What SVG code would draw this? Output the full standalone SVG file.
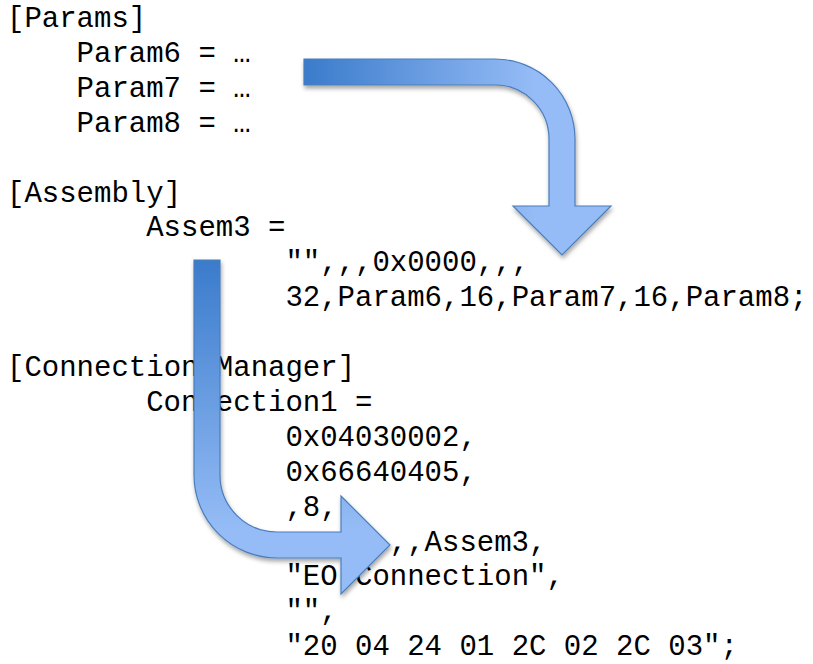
<svg xmlns="http://www.w3.org/2000/svg" width="813" height="664" viewBox="0 0 813 664">
  <style>
    .code { font-family: "Liberation Mono", "Courier New", monospace; font-size: 29px; fill: #000; }
    .arrow { stroke: #4A7EBB; stroke-width: 1.2; stroke-linejoin: miter; }
  </style>
  <defs>
    <linearGradient id="gradRight" gradientUnits="userSpaceOnUse" x1="304" y1="0" x2="535" y2="0">
      <stop offset="0" stop-color="#3A7BCB"/>
      <stop offset="1" stop-color="#95BCF6"/>
    </linearGradient>
    <linearGradient id="gradDown" gradientUnits="userSpaceOnUse" x1="0" y1="260" x2="0" y2="530">
      <stop offset="0" stop-color="#3A7BCB"/>
      <stop offset="1" stop-color="#95BCF6"/>
    </linearGradient>
    <filter id="shadow" x="-10%" y="-10%" width="120%" height="120%">
      <feDropShadow dx="1" dy="3" stdDeviation="2" flood-color="#000" flood-opacity="0.35"/>
    </filter>
  </defs>

  <!-- EDS file excerpt, 34.9px line pitch -->
  <g id="code" class="code">
    <text x="7" y="27">[Params]</text>
    <text x="76.6" y="61.9">Param6 = …</text>
    <text x="76.6" y="96.8">Param7 = …</text>
    <text x="76.6" y="131.7">Param8 = …</text>
    <text x="7" y="201.5">[Assembly]</text>
    <text x="146.2" y="236.4">Assem3 =</text>
    <text x="285.4" y="271.3">"",,,0x0000,,,</text>
    <text x="285.4" y="306.2">32,Param6,16,Param7,16,Param8;</text>
    <text x="7" y="376">[Connection Manager]</text>
    <text x="146.2" y="410.9">Connection1 =</text>
    <text x="285.4" y="445.8">0x04030002,</text>
    <text x="285.4" y="480.7">0x66640405,</text>
    <text x="285.4" y="515.6">,8,</text>
    <text x="372.4" y="550.5">,,,Assem3,</text>
    <text x="285.4" y="585.4">"EO Connection",</text>
    <text x="285.4" y="620.3">"",</text>
    <text x="285.4" y="655.2">"20 04 24 01 2C 02 2C 03";</text>
  </g>

  <!-- bent block arrows -->
  <g id="connectors" filter="url(#shadow)">
    <path id="arrow-params-to-assembly" class="arrow" fill="url(#gradRight)"
          d="M304,59 H495 A80,80 0 0 1 575,139 V206 H611 L562,255 L513,206 H549 V139 A54,54 0 0 0 495,85 H304 Z"/>
    <path id="arrow-assembly-to-connection" class="arrow" fill="url(#gradDown)"
          d="M194,260 H220 V475 A57,57 0 0 0 277,532 H341 V496 L390,545 L341,594 V558 H277 A83,83 0 0 1 194,475 Z"/>
  </g>
</svg>
